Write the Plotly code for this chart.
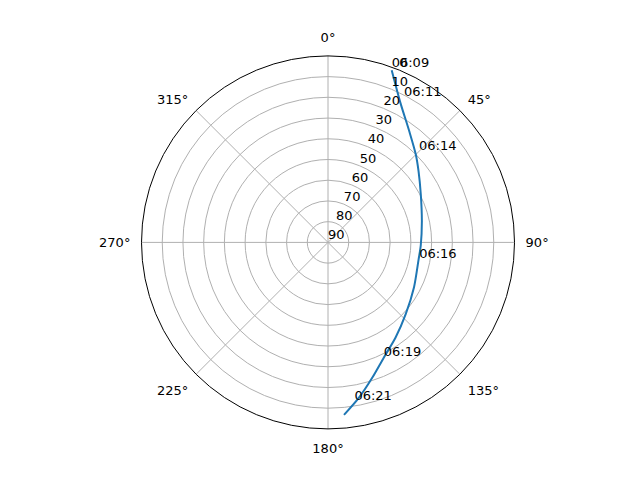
import plotly.graph_objects as go

# Pass track (azimuth in degrees clockwise from north, elevation in degrees)
track_az = [20.3, 27.7, 36.0, 44.9, 51.8, 62.7, 77.5, 91.6, 101.1, 117.5, 132.6, 144.6, 154.2, 162.0, 168.9, 174.7]
track_el = [1.4, 14.5, 23.4, 30.0, 34.4, 39.6, 43.6, 45.2, 45.5, 43.2, 39.0, 33.7, 28.2, 21.2, 13.4, 6.4]

# Time labels along the track
label_text = ["06:09", "06:11", "06:14", "06:16", "06:19", "06:21"]
label_az = [20.3, 27.9, 45.7, 101.6, 154.5, 170.7]
label_el = [1.4, 11.6, 28.6, 45.1, 27.5, 11.1]

# Axis ticks
radial_ticks = [0, 10, 20, 30, 40, 50, 60, 70, 80, 90]
radial_label_angle = 22.5
angular_ticks = [0, 45, 90, 135, 180, 225, 270, 315]

fig = go.Figure()
fig.add_trace(go.Scatterpolar(
    r=track_el, theta=track_az, mode="lines",
    line=dict(color="#1f77b4", width=2, shape="spline", smoothing=0.8),
    showlegend=False, hoverinfo="skip"))
# radial tick labels placed along the 22.5 deg line
fig.add_trace(go.Scatterpolar(
    r=radial_ticks, theta=[radial_label_angle] * len(radial_ticks), mode="text",
    text=[str(v) for v in radial_ticks], textposition="top right",
    textfont=dict(family="DejaVu Sans", size=13, color="black"),
    showlegend=False, hoverinfo="skip", cliponaxis=False))
fig.add_trace(go.Scatterpolar(
    r=label_el, theta=label_az, mode="text", text=label_text,
    textposition="top right",
    textfont=dict(family="DejaVu Sans", size=13, color="black"),
    showlegend=False, hoverinfo="skip", cliponaxis=False))

W, H = 640, 480
off = 8  # page body margin
cx, cy, R = 328 - off, 242.4 - off, 186.5
fig.update_layout(
    width=W, height=H,
    margin=dict(l=0, r=0, t=0, b=0),
    paper_bgcolor="white",
    font=dict(family="DejaVu Sans", size=13, color="black"),
    polar=dict(
        domain=dict(x=[(cx - R) / W, (cx + R) / W], y=[1 - (cy + R) / H, 1 - (cy - R) / H]),
        bgcolor="white",
        radialaxis=dict(
            range=[90, 0], tickvals=radial_ticks, showticklabels=False,
            angle=67.5, showline=False, ticks="", gridcolor="#b0b0b0", gridwidth=1,
        ),
        angularaxis=dict(
            rotation=90, direction="clockwise",
            tickvals=angular_ticks, ticktext=[f"{v}°" for v in angular_ticks],
            ticks="outside", ticklen=8, tickcolor="rgba(0,0,0,0)",
            showline=True, linecolor="black", linewidth=1,
            gridcolor="#b0b0b0", gridwidth=1,
            tickfont=dict(family="DejaVu Sans", size=13, color="black"),
        ),
    ),
)
fig.write_html("out.html")
